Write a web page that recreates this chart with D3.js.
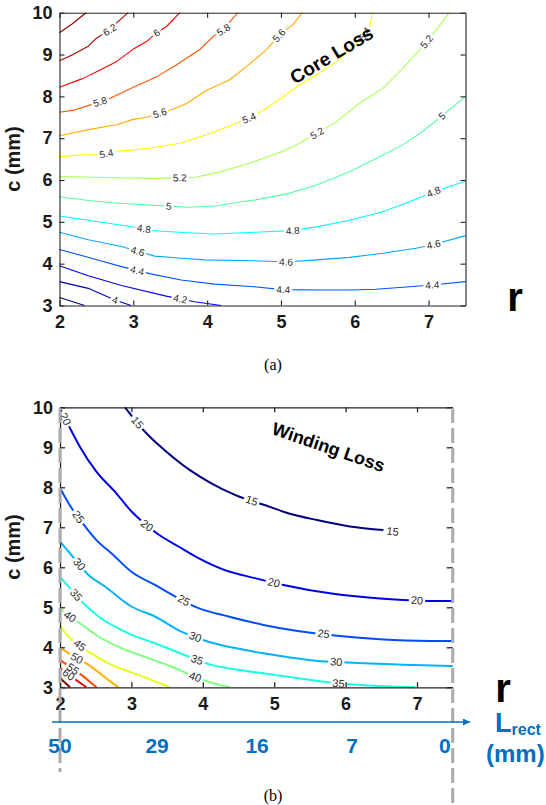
<!DOCTYPE html>
<html><head><meta charset="utf-8">
<script src="https://cdn.jsdelivr.net/npm/d3@7"></script>
<style>body{margin:0;background:#fff}svg{display:block}</style>
</head><body><svg id="chart" width="546" height="805"></svg>
<script>
// ---------------- DATA ----------------
const rTicks = [2, 3, 4, 5, 6, 7];
const cTicks = [3, 4, 5, 6, 7, 8, 9, 10];

// (a) Core loss contour lines, points are [r, c]
const coreLevels = [3.8, 4.0, 4.2, 4.4, 4.6, 4.8, 5.0, 5.2, 5.4, 5.6, 5.8, 6.0, 6.2, 6.4];
const core38 = [[2.0,3.19],[2.34,3.0]];
const core40 = [[2.0,3.57],[2.39,3.41],[2.75,3.13],[2.97,3.0]];
const core42 = [[2.0,3.95],[2.39,3.71],[2.84,3.48],[3.43,3.23],[3.83,3.09],[4.19,3.0]];
const core44 = [[2.0,4.34],[2.52,4.09],[2.84,3.93],[3.25,3.75],[3.65,3.61],[4.10,3.51],[4.64,3.45],[5.02,3.38],[5.48,3.37],[5.93,3.37],[6.29,3.39],[6.74,3.45],[7.05,3.49],[7.5,3.57]];
const core46 = [[2.0,4.75],[2.39,4.57],[2.84,4.41],[3.29,4.18],[3.65,4.13],[3.97,4.09],[4.64,4.07],[5.07,4.04],[5.48,4.09],[5.93,4.15],[6.38,4.25],[6.83,4.37],[7.07,4.46],[7.5,4.67]];
const core48 = [[2.0,5.14],[2.39,5.04],[2.84,4.92],[3.34,4.78],[3.74,4.74],[4.10,4.71],[4.64,4.75],[5.16,4.79],[5.48,4.88],[5.93,5.04],[6.38,5.24],[6.74,5.48],[7.07,5.72],[7.5,5.97]];
const core50 = [[2.0,5.60],[2.39,5.51],[2.84,5.44],[3.25,5.40],[3.74,5.35],[4.10,5.38],[4.46,5.48],[4.64,5.52],[5.11,5.68],[5.48,5.88],[5.93,6.20],[6.38,6.60],[6.65,6.84],[6.92,7.16],[7.18,7.53],[7.5,8.0]];
const core52 = [[2.0,6.08],[2.61,6.06],[3.29,6.04],[3.83,6.06],[4.19,6.20],[4.57,6.40],[5.02,6.68],[5.25,6.88],[5.50,7.13],[5.75,7.39],[6.06,7.83],[6.38,8.19],[6.65,8.67],[6.92,9.19],[7.14,9.67],[7.28,10]];
const core54 = [[2.0,6.56],[2.32,6.60],[2.55,6.60],[2.77,6.68],[3.0,6.72],[3.22,6.76],[3.63,6.88],[3.99,7.08],[4.35,7.32],[4.57,7.48],[4.80,7.71],[5.03,7.99],[5.25,8.27],[5.48,8.51],[5.75,8.83],[5.93,9.11],[6.11,9.43],[6.20,9.67],[6.24,10]];
const core56 = [[2.0,7.06],[2.41,7.21],[2.77,7.32],[3.0,7.45],[3.18,7.50],[3.36,7.60],[3.54,7.69],[3.72,7.83],[3.99,8.14],[4.30,8.39],[4.53,8.71],[4.80,9.11],[4.98,9.47],[5.16,9.71],[5.29,10]];
const core58 = [[2.0,7.62],[2.19,7.67],[2.41,7.79],[2.55,7.87],[2.68,7.95],[3.0,8.22],[3.31,8.46],[3.58,8.75],[3.90,9.12],[4.08,9.43],[4.22,9.59],[4.35,9.87],[4.42,10]];
const core60 = [[2.0,8.22],[2.32,8.43],[2.55,8.63],[2.77,8.83],[3.0,9.13],[3.18,9.31],[3.31,9.51],[3.45,9.67],[3.63,10]];
const core62 = [[2.0,8.85],[2.17,8.99],[2.39,9.20],[2.50,9.39],[2.68,9.59],[2.77,9.75],[2.93,10]];
const core64 = [[2.0,9.52],[2.17,9.73],[2.36,10]];
const coreLines = [core38, core40, core42, core44, core46, core48, core50, core52, core54, core56, core58, core60, core62, core64];
// label: [level, r, c]
const coreLabels = [
  [6.2,2.68,9.59],[6.0,3.32,9.51],[5.8,2.55,7.87],[5.8,4.22,9.59],[5.6,3.36,7.60],[5.6,5.01,9.40],
  [5.4,2.64,6.60],[5.4,4.57,7.48],[5.4,6.09,9.54],[5.2,3.63,6.05],[5.2,5.49,7.12],[5.2,6.98,9.30],
  [5.0,3.48,5.35],[5.0,7.18,7.53],[4.8,3.14,4.81],[4.8,5.16,4.79],[4.8,7.07,5.71],
  [4.6,3.06,4.30],[4.6,5.07,4.04],[4.6,7.07,4.45],[4.4,3.05,3.82],[4.4,5.03,3.37],[4.4,7.05,3.49],
  [4.2,3.63,3.10],[4.0,2.75,3.11]
];

// (b) Winding loss contour lines
const windLevels = [15, 20, 25, 30, 35, 40, 45, 50, 55, 60, 65];
const wind15 = [[2.91,10],[3.21,9.35],[3.49,8.89],[3.82,8.43],[4.12,8.1],[4.45,7.81],[4.94,7.51],[5.13,7.39],[5.6,7.18],[6.06,7.02],[6.53,6.93]];
const wind20 = [[2.0,9.98],[2.14,9.48],[2.28,9.01],[2.51,8.39],[2.79,7.85],[3.0,7.40],[3.2,7.07],[3.38,6.82],[3.66,6.52],[3.94,6.23],[4.31,5.93],[4.73,5.73],[5.13,5.56],[5.78,5.35],[6.48,5.22],[7.18,5.16],[7.5,5.16]];
const wind25 = [[2.0,7.98],[2.12,7.6],[2.37,6.98],[2.51,6.68],[2.72,6.35],[3.0,5.89],[3.33,5.56],[3.94,4.98],[4.36,4.77],[4.85,4.56],[5.92,4.28],[6.48,4.2],[7.18,4.16],[7.5,4.16]];
const wind30 = [[2.0,6.64],[2.12,6.39],[2.4,5.81],[2.63,5.52],[3.0,5.02],[3.33,4.77],[3.7,4.39],[4.08,4.14],[4.45,3.98],[4.85,3.85],[5.55,3.67],[6.25,3.6],[6.95,3.56],[7.5,3.53]];
const wind35 = [[2.0,5.75],[2.12,5.52],[2.33,5.1],[2.54,4.77],[2.96,4.35],[3.33,4.1],[3.8,3.77],[4.12,3.56],[4.45,3.45],[4.85,3.35],[5.32,3.23],[5.9,3.1],[6.25,3.05],[6.97,3.0]];
const wind40 = [[2.0,4.98],[2.07,4.85],[2.28,4.6],[2.54,4.27],[2.86,3.98],[3.24,3.73],[3.56,3.52],[3.89,3.26],[4.08,3.14],[4.38,3.0]];
const wind45 = [[2.0,4.53],[2.12,4.27],[2.40,3.89],[2.68,3.6],[3.10,3.31],[3.54,3.0]];
const wind50 = [[2.0,3.99],[2.12,3.85],[2.40,3.56],[2.68,3.18],[2.82,3.0]];
const wind55 = [[2.0,3.68],[2.30,3.31],[2.49,3.03],[2.51,3.0]];
const wind60 = [[2.0,3.48],[2.26,3.14],[2.37,3.0]];
const wind65 = [[2.0,3.23],[2.14,3.0]];
const windLines = [wind15, wind20, wind25, wind30, wind35, wind40, wind45, wind50, wind55, wind60, wind65];
const windLabels = [
  [15,3.07,9.6],[15,4.68,7.64],[15,6.66,6.9],
  [20,2.07,9.7],[20,3.2,7.0],[20,4.99,5.58],[20,7.0,5.17],
  [25,2.25,7.25],[25,3.73,5.16],[25,5.69,4.33],
  [30,2.26,6.06],[30,3.89,4.23],[30,5.87,3.63],
  [35,2.21,5.28],[35,3.91,3.64],[35,5.9,3.08],
  [40,2.14,4.77],[40,3.89,3.24],
  [45,2.28,4.06],[50,2.25,3.77],[55,2.19,3.48],[60,2.12,3.31]
];

// secondary axis: L_rect (mm) at given r
const lrectText = ["50", "29", "16", "7", "0"];
const lrectAtR = [2.0, 3.36, 4.76, 6.09, 7.39];

// ---------------- DRAW ----------------
const W = 546, H = 805;
const FONT = "'Liberation Sans', Arial, Helvetica, sans-serif";
const svg = d3.select("#chart");
svg.append("rect").attr("width", W).attr("height", H).attr("fill", "#fff");
const defs = svg.append("defs");

const jet = t => {
  const c = v => Math.max(0, Math.min(1, v));
  return d3.rgb(255 * c(1.5 - Math.abs(4 * t - 3)), 255 * c(1.5 - Math.abs(4 * t - 2)), 255 * c(1.5 - Math.abs(4 * t - 1))).formatHex();
};
const fmt = d3.format("~g");
const intFmt = d3.format("d");

function drawContours(cfg) {
  const { id, x, y, levels, lines, labels, colorT, strokeW, labelSize, gapH, curve } = cfg;
  const linesG = svg.append("g");
  const labelG = svg.append("g");
  const px = lines.map(l => l.map(p => [x(p[0]), y(p[1])]));
  const cuts = levels.map(() => []);
  labels.forEach(([lv, r, c]) => {
    const i = levels.findIndex(v => Math.abs(v - lv) < 1e-6);
    const p = [x(r), y(c)];
    const pts = px[i];
    let best = { d: Infinity };
    for (let k = 0; k < pts.length - 1; k++) {
      const a = pts[k], b = pts[k + 1];
      const dx = b[0] - a[0], dy = b[1] - a[1];
      const L2 = dx * dx + dy * dy;
      let t = ((p[0] - a[0]) * dx + (p[1] - a[1]) * dy) / L2;
      t = Math.max(0, Math.min(1, t));
      const q = [a[0] + t * dx, a[1] + t * dy];
      const d = Math.hypot(p[0] - q[0], p[1] - q[1]);
      if (d < best.d) best = { d, q, ang: Math.atan2(dy, dx) * 180 / Math.PI };
    }
    const pos = best.d > 6 ? p : best.q;
    let ang = best.ang;
    if (ang > 90) ang -= 180;
    if (ang < -90) ang += 180;
    const tr = `translate(${pos[0]},${pos[1]}) rotate(${ang})`;
    const t = labelG.append("text").attr("transform", tr)
      .attr("text-anchor", "middle").attr("dy", "0.35em")
      .attr("font-size", labelSize).attr("font-family", FONT).attr("fill", "#2a2a2a")
      .text(fmt(lv));
    const w = t.node().getComputedTextLength();
    cuts[i].push({ tr, w });
  });
  levels.forEach((lv, i) => {
    const m = defs.append("mask").attr("id", `${id}-m${i}`).attr("maskUnits", "userSpaceOnUse")
      .attr("x", 0).attr("y", 0).attr("width", W).attr("height", H);
    m.append("rect").attr("width", W).attr("height", H).attr("fill", "#fff");
    cuts[i].forEach(cu => m.append("rect").attr("transform", cu.tr)
      .attr("x", -cu.w / 2 - 2).attr("y", -gapH / 2).attr("width", cu.w + 4).attr("height", gapH).attr("fill", "#000"));
    linesG.append("path").attr("d", d3.line().curve(curve)(px[i]))
      .attr("fill", "none").attr("stroke", jet(colorT(lv))).attr("stroke-width", strokeW)
      .attr("stroke-linejoin", "round").attr("mask", `url(#${id}-m${i})`);
  });
}

function styleAxis(sel, sw) {
  sel.attr("font-family", null).attr("font-size", null);
  sel.selectAll("path.domain, line").attr("stroke", "#222").attr("stroke-width", sw);
  sel.selectAll("text").attr("font-family", FONT).attr("font-weight", "bold").attr("font-size", 18).attr("fill", "#1a1a1a");
}

// ===== Panel (a) =====
const xA = d3.scaleLinear().domain([2, 7.5]).range([59.5, 465.5]);
const yA = d3.scaleLinear().domain([3, 10]).range([305.5, 12.7]);
drawContours({
  id: "a", x: xA, y: yA, levels: coreLevels, lines: coreLines, labels: coreLabels,
  colorT: d3.scaleLinear().domain([3.9, 6.3]).range([0, 1]).clamp(true),
  strokeW: 1.1, labelSize: 10, gapH: 9, curve: d3.curveLinear
});
svg.append("g").attr("transform", `translate(0,${yA(3)})`)
  .call(d3.axisBottom(xA).tickValues(rTicks).tickFormat(intFmt).tickSizeInner(-5).tickSizeOuter(0).tickPadding(9.5)).call(styleAxis, 1.1);
svg.append("g").attr("transform", `translate(${xA(2)},0)`)
  .call(d3.axisLeft(yA).tickValues(cTicks).tickFormat(intFmt).tickSizeInner(-5).tickSizeOuter(0).tickPadding(7)).call(styleAxis, 1.1);
svg.append("g").attr("transform", `translate(0,${yA(10)})`)
  .call(d3.axisTop(xA).tickValues(rTicks).tickSizeInner(-5).tickSizeOuter(0).tickFormat("")).call(styleAxis, 1.1);
svg.append("g").attr("transform", `translate(${xA(7.5)},0)`)
  .call(d3.axisRight(yA).tickValues(cTicks).tickSizeInner(-5).tickSizeOuter(0).tickFormat("")).call(styleAxis, 1.1);

svg.append("text").attr("transform", "translate(331.5,55) rotate(-31)")
  .attr("text-anchor", "middle").attr("dy", "0.35em")
  .attr("font-family", FONT).attr("font-weight", "bold").attr("font-size", 19).attr("fill", "#000").text("Core Loss");
svg.append("text").attr("transform", "translate(20,159) rotate(-90)").attr("text-anchor", "middle")
  .attr("font-family", FONT).attr("font-weight", "bold").attr("font-size", 20).attr("fill", "#1a1a1a").text("c (mm)");
svg.append("text").attr("x", 515).attr("y", 311).attr("text-anchor", "middle")
  .attr("font-family", FONT).attr("font-weight", "bold").attr("font-size", 40).attr("fill", "#000").text("r");
svg.append("text").attr("x", 273).attr("y", 370).attr("text-anchor", "middle")
  .attr("font-family", "'Liberation Serif', 'Times New Roman', serif").attr("font-size", 16).attr("fill", "#000").text("(a)");

// ===== Panel (b) =====
const xB = d3.scaleLinear().domain([2, 7.5]).range([60, 452.7]);
const yB = d3.scaleLinear().domain([3, 10]).range([687.3, 407.3]);
drawContours({
  id: "b", x: xB, y: yB, levels: windLevels, lines: windLines, labels: windLabels,
  colorT: d3.scaleLinear().domain([15, 65]).range([0, 1]).clamp(true),
  strokeW: 2, labelSize: 11, gapH: 11, curve: d3.curveMonotoneX
});
svg.append("g").attr("transform", `translate(0,${yB(3)})`)
  .call(d3.axisBottom(xB).tickValues(rTicks).tickFormat(intFmt).tickSizeInner(-5).tickSizeOuter(0).tickPadding(9.5)).call(styleAxis, 1.3);
svg.append("g").attr("transform", `translate(${xB(2)},0)`)
  .call(d3.axisLeft(yB).tickValues(cTicks).tickFormat(intFmt).tickSizeInner(-5).tickSizeOuter(0).tickPadding(7)).call(styleAxis, 1.3);
svg.append("g").attr("transform", `translate(0,${yB(10)})`)
  .call(d3.axisTop(xB).tickValues(rTicks).tickSizeInner(-5).tickSizeOuter(0).tickFormat("")).call(styleAxis, 1.3);
const rightB = svg.append("g").attr("transform", `translate(${xB(7.5)},0)`)
  .call(d3.axisRight(yB).tickValues(cTicks).tickSizeInner(-6).tickSizeOuter(0).tickFormat("")).call(styleAxis, 1.3);
rightB.select("path.domain").remove();

// grey dashed guides
svg.append("line").attr("x1", xB(2)).attr("x2", xB(2)).attr("y1", 408).attr("y2", 772)
  .attr("stroke", "#ababab").attr("stroke-width", 3).attr("stroke-dasharray", "15,5");
svg.append("line").attr("x1", xB(7.5)).attr("x2", xB(7.5)).attr("y1", 408).attr("y2", 805)
  .attr("stroke", "#ababab").attr("stroke-width", 3).attr("stroke-dasharray", "15,5");

svg.append("text").attr("transform", "translate(328.5,447) rotate(19)")
  .attr("text-anchor", "middle").attr("dy", "0.35em")
  .attr("font-family", FONT).attr("font-weight", "bold").attr("font-size", 18).attr("fill", "#000").text("Winding Loss");
svg.append("text").attr("transform", "translate(20,547) rotate(-90)").attr("text-anchor", "middle")
  .attr("font-family", FONT).attr("font-weight", "bold").attr("font-size", 20).attr("fill", "#1a1a1a").text("c (mm)");
svg.append("text").attr("x", 503).attr("y", 702).attr("text-anchor", "middle")
  .attr("font-family", FONT).attr("font-weight", "bold").attr("font-size", 40).attr("fill", "#000").text("r");

// L_rect axis
const BLUE = "#0070C0";
defs.append("marker").attr("id", "arrow").attr("viewBox", "0 0 10 10").attr("refX", 10).attr("refY", 5)
  .attr("markerWidth", 9).attr("markerHeight", 7).attr("markerUnits", "userSpaceOnUse").attr("orient", "auto")
  .append("path").attr("d", "M0,0 L10,5 L0,10 z").attr("fill", BLUE);
svg.append("line").attr("x1", 52).attr("x2", 470).attr("y1", 722).attr("y2", 722)
  .attr("stroke", BLUE).attr("stroke-width", 1.4).attr("marker-end", "url(#arrow)");
svg.append("g").selectAll("text").data(lrectText).join("text")
  .attr("x", (d, i) => xB(lrectAtR[i])).attr("y", 753).attr("text-anchor", "middle")
  .attr("font-family", FONT).attr("font-weight", "bold").attr("font-size", 21).attr("fill", BLUE).text(d => d);
const lt = svg.append("text").attr("x", 495).attr("y", 732)
  .attr("font-family", FONT).attr("font-weight", "bold").attr("fill", BLUE);
lt.append("tspan").attr("font-size", 27).text("L");
lt.append("tspan").attr("font-size", 16).attr("dy", 3).text("rect");
svg.append("text").attr("x", 486).attr("y", 762)
  .attr("font-family", FONT).attr("font-weight", "bold").attr("font-size", 24).attr("fill", BLUE).text("(mm)");

svg.append("text").attr("x", 273).attr("y", 801).attr("text-anchor", "middle")
  .attr("font-family", "'Liberation Serif', 'Times New Roman', serif").attr("font-size", 16).attr("fill", "#000").text("(b)");
</script>
</body></html>
